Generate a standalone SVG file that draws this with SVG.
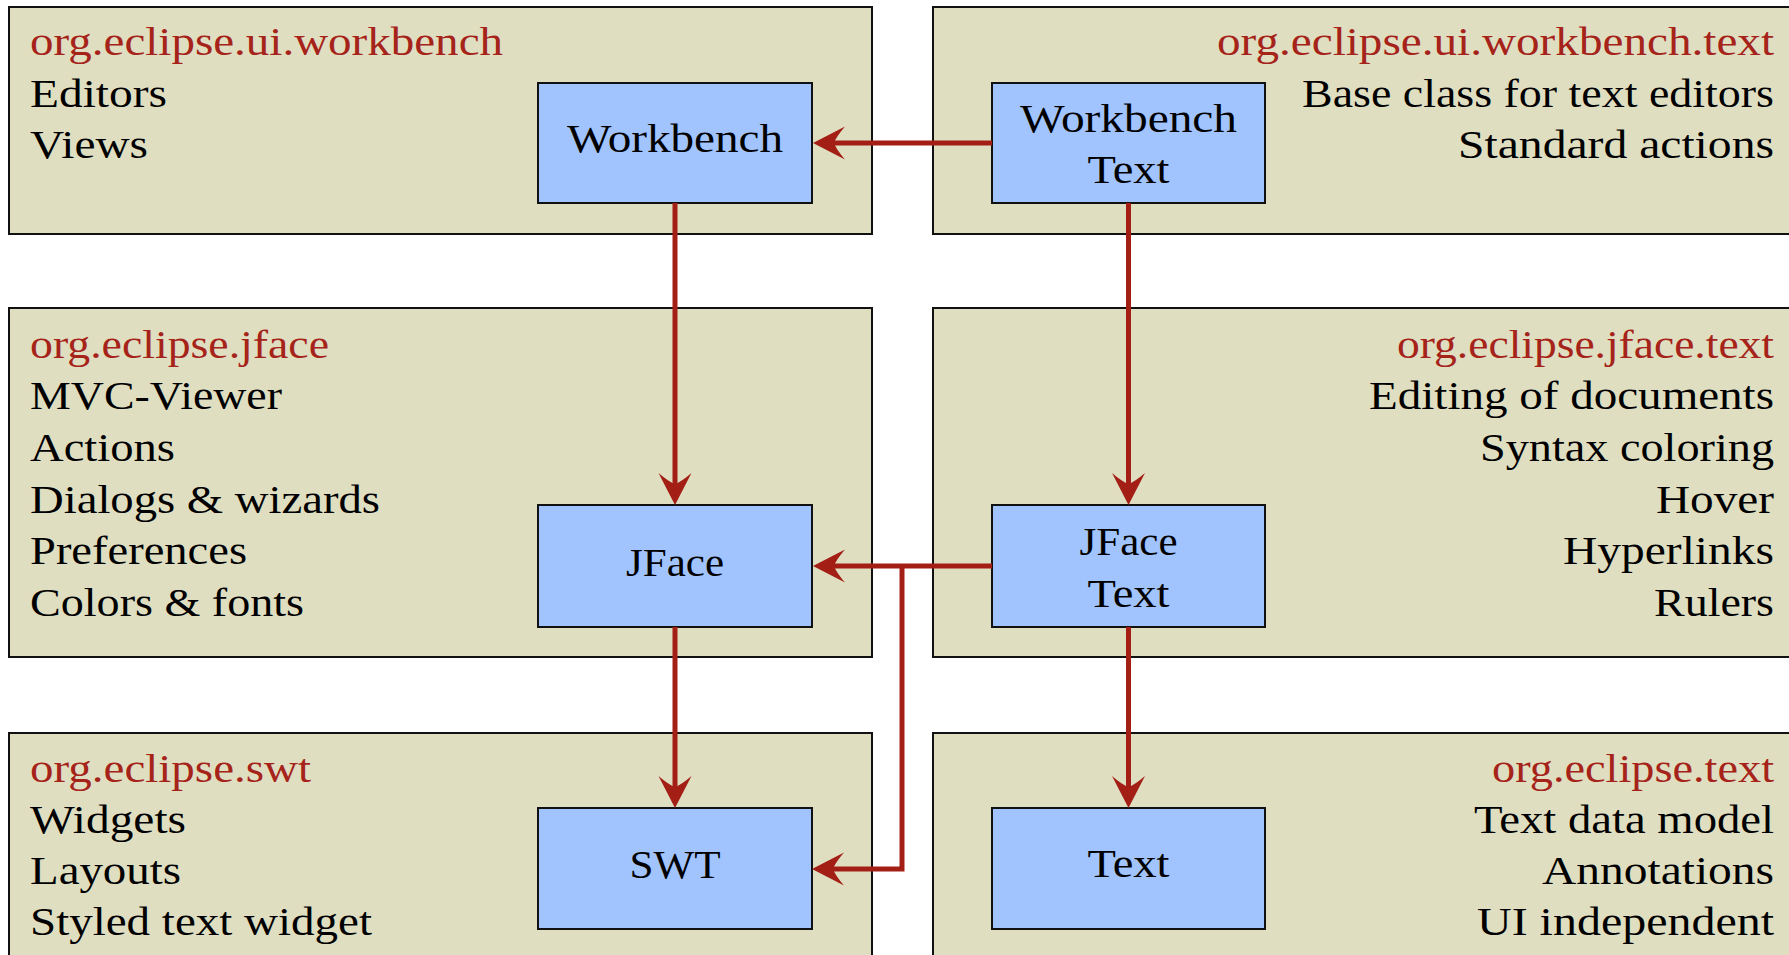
<svg xmlns="http://www.w3.org/2000/svg" width="1789" height="955" viewBox="0 0 1789 955">
<style>
.panel{fill:#dfdec0;stroke:#111;stroke-width:2}
.box{fill:#a1c4fe;stroke:#111;stroke-width:2}
text{font-family:"Liberation Serif","Times New Roman",serif;font-size:40px;fill:#000;lengthAdjust:spacingAndGlyphs}
.title{fill:#a6231a}
.lbl{text-anchor:middle}
.conn{fill:none;stroke:#a31f16;stroke-width:5;marker-end:url(#arr)}
</style>
<defs>
<marker id="arr" markerUnits="userSpaceOnUse" markerWidth="40" markerHeight="40" refX="0" refY="0" orient="auto" overflow="visible">
<path d="M20,0 L-12,-16.5 Q-3,-6 -1,0 Q-3,6 -12,16.5 Z" fill="#a31f16"/>
</marker>
</defs>
<g id="panel-workbench">
<rect class="panel" x="9" y="7" width="863" height="227"/>
<text class="title" x="30" y="55" textLength="473" lengthAdjust="spacingAndGlyphs">org.eclipse.ui.workbench</text>
<text x="30" y="107" textLength="137" lengthAdjust="spacingAndGlyphs">Editors</text>
<text x="30" y="158" textLength="118" lengthAdjust="spacingAndGlyphs">Views</text>
</g>
<g id="panel-workbench-text">
<rect class="panel" x="933" y="7" width="870" height="227"/>
<text class="title" x="1217" y="55" textLength="557" lengthAdjust="spacingAndGlyphs">org.eclipse.ui.workbench.text</text>
<text x="1302" y="107" textLength="472" lengthAdjust="spacingAndGlyphs">Base class for text editors</text>
<text x="1458" y="158" textLength="316" lengthAdjust="spacingAndGlyphs">Standard actions</text>
</g>
<g id="panel-jface">
<rect class="panel" x="9" y="308" width="863" height="349"/>
<text class="title" x="30" y="358" textLength="299" lengthAdjust="spacingAndGlyphs">org.eclipse.jface</text>
<text x="30" y="409" textLength="252" lengthAdjust="spacingAndGlyphs">MVC-Viewer</text>
<text x="30" y="461" textLength="145" lengthAdjust="spacingAndGlyphs">Actions</text>
<text x="30" y="513" textLength="350" lengthAdjust="spacingAndGlyphs">Dialogs &amp; wizards</text>
<text x="30" y="564" textLength="217" lengthAdjust="spacingAndGlyphs">Preferences</text>
<text x="30" y="616" textLength="274" lengthAdjust="spacingAndGlyphs">Colors &amp; fonts</text>
</g>
<g id="panel-jface-text">
<rect class="panel" x="933" y="308" width="870" height="349"/>
<text class="title" x="1397" y="358" textLength="377" lengthAdjust="spacingAndGlyphs">org.eclipse.jface.text</text>
<text x="1369" y="409" textLength="405" lengthAdjust="spacingAndGlyphs">Editing of documents</text>
<text x="1480" y="461" textLength="294" lengthAdjust="spacingAndGlyphs">Syntax coloring</text>
<text x="1656" y="513" textLength="118" lengthAdjust="spacingAndGlyphs">Hover</text>
<text x="1563" y="564" textLength="211" lengthAdjust="spacingAndGlyphs">Hyperlinks</text>
<text x="1654" y="616" textLength="120" lengthAdjust="spacingAndGlyphs">Rulers</text>
</g>
<g id="panel-swt">
<rect class="panel" x="9" y="733" width="863" height="240"/>
<text class="title" x="30" y="782" textLength="281" lengthAdjust="spacingAndGlyphs">org.eclipse.swt</text>
<text x="30" y="833" textLength="156" lengthAdjust="spacingAndGlyphs">Widgets</text>
<text x="30" y="884" textLength="151" lengthAdjust="spacingAndGlyphs">Layouts</text>
<text x="30" y="935" textLength="342" lengthAdjust="spacingAndGlyphs">Styled text widget</text>
</g>
<g id="panel-text">
<rect class="panel" x="933" y="733" width="870" height="240"/>
<text class="title" x="1492" y="782" textLength="282" lengthAdjust="spacingAndGlyphs">org.eclipse.text</text>
<text x="1474" y="833" textLength="300" lengthAdjust="spacingAndGlyphs">Text data model</text>
<text x="1542" y="884" textLength="232" lengthAdjust="spacingAndGlyphs">Annotations</text>
<text x="1477" y="935" textLength="297" lengthAdjust="spacingAndGlyphs">UI independent</text>
</g>
<g id="node-workbench">
<rect class="box" x="538" y="83" width="274" height="120"/>
<text class="lbl" x="675" y="152" textLength="216" lengthAdjust="spacingAndGlyphs">Workbench</text>
</g>
<g id="node-workbench-text">
<rect class="box" x="992" y="83" width="273" height="120"/>
<text class="lbl" x="1128.5" y="132" textLength="217" lengthAdjust="spacingAndGlyphs">Workbench</text>
<text class="lbl" x="1128.5" y="183" textLength="82" lengthAdjust="spacingAndGlyphs">Text</text>
</g>
<g id="node-jface">
<rect class="box" x="538" y="505" width="274" height="122"/>
<text class="lbl" x="675" y="576" textLength="98" lengthAdjust="spacingAndGlyphs">JFace</text>
</g>
<g id="node-jface-text">
<rect class="box" x="992" y="505" width="273" height="122"/>
<text class="lbl" x="1128.5" y="555" textLength="98" lengthAdjust="spacingAndGlyphs">JFace</text>
<text class="lbl" x="1128.5" y="607" textLength="82" lengthAdjust="spacingAndGlyphs">Text</text>
</g>
<g id="node-swt">
<rect class="box" x="538" y="808" width="274" height="121"/>
<text class="lbl" x="675" y="878" textLength="91" lengthAdjust="spacingAndGlyphs">SWT</text>
</g>
<g id="node-text">
<rect class="box" x="992" y="808" width="273" height="121"/>
<text class="lbl" x="1128.5" y="877" textLength="82" lengthAdjust="spacingAndGlyphs">Text</text>
</g>
<g id="connectors">
<path class="conn" d="M992,143 H833"/>
<path class="conn" d="M675,203 V485"/>
<path class="conn" d="M1128.5,203 V485"/>
<path class="conn" d="M992,566 H833"/>
<path class="conn" d="M902,566 V869 H832"/>
<path class="conn" d="M675,627 V788"/>
<path class="conn" d="M1128.5,627 V788"/>
</g>
</svg>
